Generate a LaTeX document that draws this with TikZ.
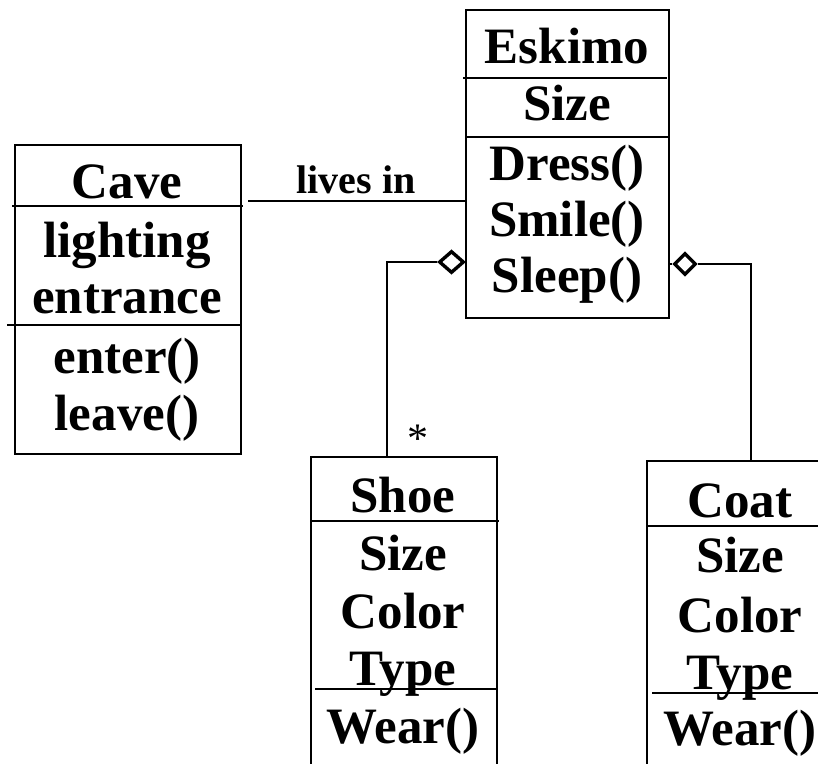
\documentclass[tikz,border=0pt]{standalone}
\usepackage{fontspec}
\setmainfont{Liberation Serif}
\usetikzlibrary{shapes.geometric}
\begin{document}
\begin{tikzpicture}[x=1pt,y=-1pt,
  line width=2.4pt,
  umlbox/.style={draw, rectangle, anchor=north west, inner sep=0pt},
  lbl/.style={anchor=base, inner sep=0pt, font=\bfseries\fontsize{51}{60}\selectfont},
  small/.style={anchor=base, inner sep=0pt, font=\bfseries\fontsize{40}{48}\selectfont},
  star/.style={anchor=base, inner sep=0pt, font=\fontsize{42}{48}\selectfont},
  agg/.style={draw, diamond, inner sep=0pt, fill=white, line width=3.4pt}]
\useasboundingbox (0,0) rectangle (818,763);
\clip (0,0) rectangle (818,763);

% boxes
\node[umlbox, minimum width=226pt, minimum height=309pt] (cave) at (14,144) {};
\node[umlbox, minimum width=203pt, minimum height=308pt] (eskimo) at (465,9) {};
\node[umlbox, minimum width=186pt, minimum height=340pt] (shoe) at (310,456) {};
\node[umlbox, minimum width=188pt, minimum height=340pt] (coat) at (646,460) {};

% dividers
\draw (12,206) -- (243,206);
\draw (7,325) -- (240,325);
\draw (463,78) -- (667,78);
\draw (467,137) -- (670,137);
\draw (310,521) -- (499,521);
\draw (315,689) -- (496,689);
\draw (646,526) -- (834,526);
\draw (652,693) -- (834,693);

% Cave texts
\node[lbl] (cavet) at (127,198) {Cave};
\node[lbl] (cavea1) at (127,257) {lighting};
\node[lbl] (cavea2) at (127,313) {entrance};
\node[lbl] (cavem1) at (127,373) {enter()};
\node[lbl] (cavem2) at (127,430) {leave()};

% Eskimo texts
\node[lbl] (eskt) at (567,63) {Eskimo};
\node[lbl] (eska1) at (567,120) {Size};
\node[lbl] (eskm1) at (567,180) {Dress()};
\node[lbl] (eskm2) at (567,236) {Smile()};
\node[lbl] (eskm3) at (567,292) {Sleep()};

% Shoe texts
\node[lbl] (shoet) at (403,512) {Shoe};
\node[lbl] (shoea1) at (403,570) {Size};
\node[lbl] (shoea2) at (403,628) {Color};
\node[lbl] (shoea3) at (403,685) {Type};
\node[lbl] (shoem1) at (403,743) {Wear()};

% Coat texts
\node[lbl] (coatt) at (740,517) {Coat};
\node[lbl] (coata1) at (740,572) {Size};
\node[lbl] (coata2) at (740,632) {Color};
\node[lbl] (coata3) at (740,689) {Type};
\node[lbl] (coatm1) at (740,745) {Wear()};

% lives in association
\coordinate (ly) at (0,201);
\draw ([xshift=6pt]cave.east |- ly) -- (eskimo.west |- ly);
\node[small] (livesin) at (356,193) {lives in};

% aggregation to Shoe
\node[agg, minimum width=25pt, minimum height=22pt] (dl) at (451.5,262) {};
\coordinate (sa) at ([xshift=77pt]shoe.north west);
\draw (dl.west) -| (sa);
\node[star] (mult) at (418,452) {*};

% aggregation to Coat
\node[agg, minimum width=22pt, minimum height=22pt] (dr) at (685,264) {};
\draw (eskimo.east |- dr) -- (dr.west);
\coordinate (ca) at ([xshift=105pt]coat.north west);
\draw (dr.east) -| (ca);
\end{tikzpicture}
\end{document}
